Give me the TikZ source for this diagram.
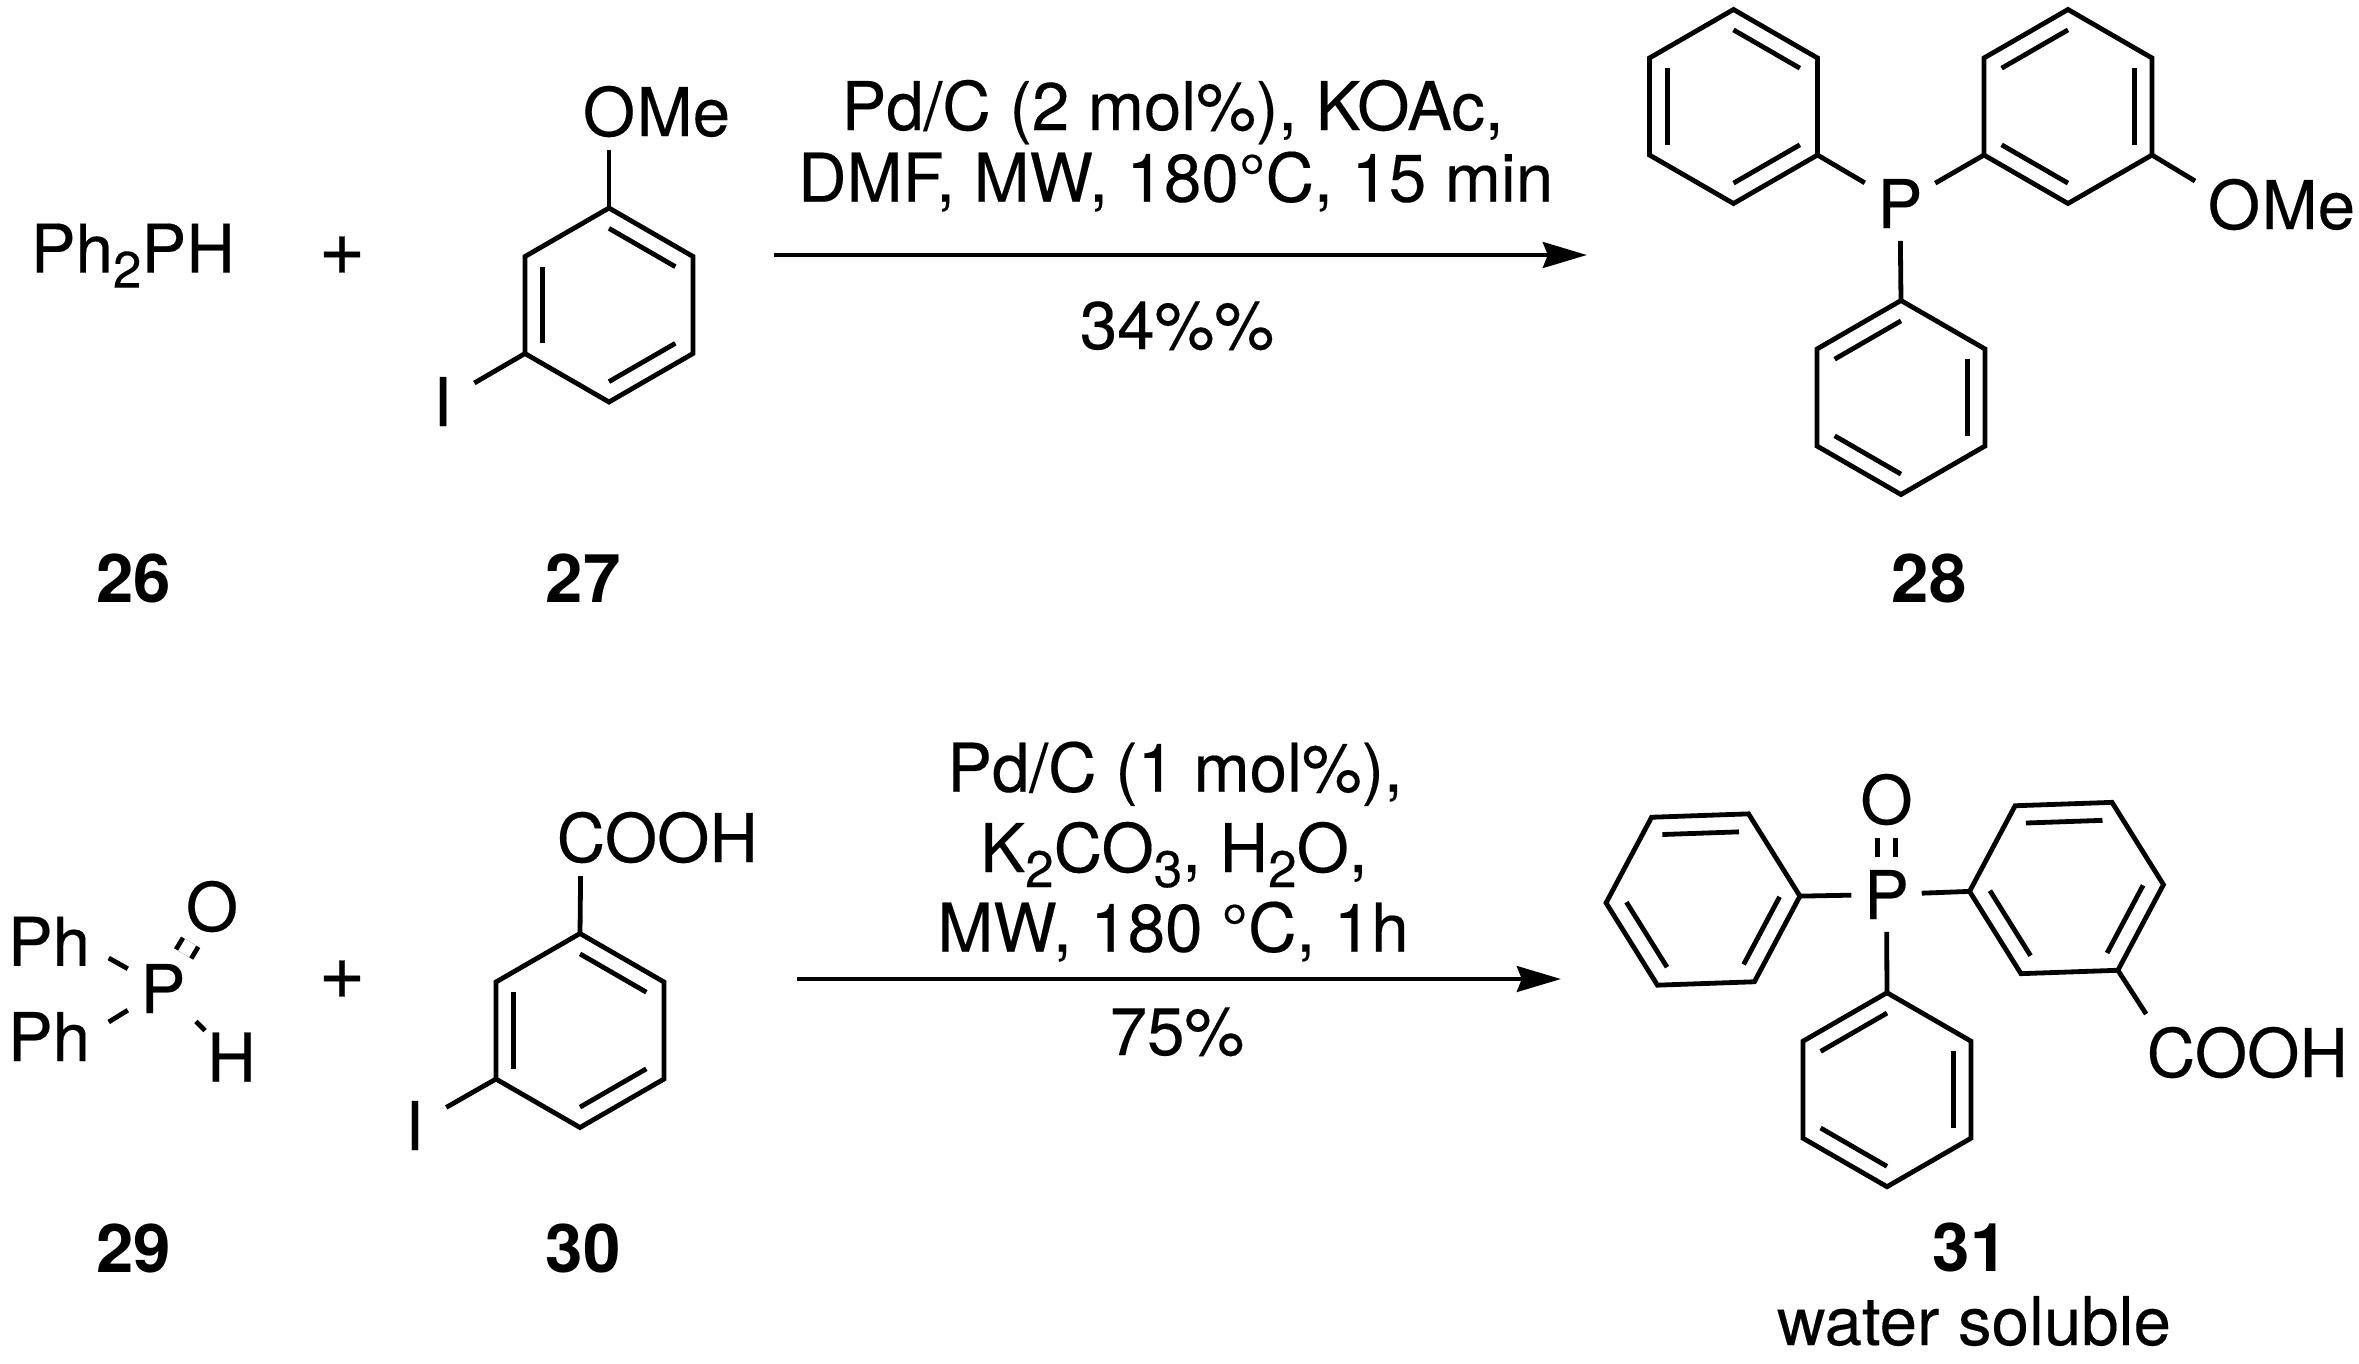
\documentclass[tikz,border=0pt]{standalone}
\usepackage{fontspec}
\setmainfont[FakeBold=0.25,BoldFeatures={FakeBold=0}]{TeX Gyre Heros}
\usepackage{tikz}
\usetikzlibrary{arrows.meta,calc}
\newcommand{\chemfont}{\fontsize{16.8}{18}\selectfont}
\newcommand{\chemsub}[1]{\raisebox{-3.75pt}{\fontsize{12.8}{12.8}\selectfont #1}}
\tikzstyle{atom} = [inner sep=3pt, anchor=base, font=\chemfont]
\tikzstyle{tightatom} = [inner sep=0pt, anchor=base, font=\chemfont]
\tikzstyle{textonly} = [inner sep=0pt, anchor=base, font=\chemfont]
\tikzstyle{plussign} = [inner sep=0pt, anchor=base, font=\fontsize{20}{20}\selectfont]
\tikzstyle{cpd} = [inner sep=0pt, anchor=base, font=\chemfont\bfseries]
\tikzstyle{bond} = [draw, line width=1.2pt]
\tikzstyle{dbond} = [draw, line width=1.2pt, double, double distance=3.2pt]
\tikzstyle{tedge} = [draw, line width=1.2pt, -{Stealth[length=11pt, width=6.4pt, inset=1.2pt]}]
% benzene ring: name, centre, angle of first corner
\newcommand{\phring}[3]{
  \coordinate (#1c) at #2;
  \foreach \k in {0,...,5} {
    \coordinate (#1v\k) at ($(#1c)+({#3+60*\k}:97)$);
  }
  \path[bond, line join=miter] (#1v0) -- (#1v1) -- (#1v2) -- (#1v3) -- (#1v4) -- (#1v5) -- cycle;
  \path[bond] ($(#1c)!0.79!(#1v0)$) -- ($(#1c)!0.79!(#1v1)$);
  \path[bond] ($(#1c)!0.79!(#1v2)$) -- ($(#1c)!0.79!(#1v3)$);
  \path[bond] ($(#1c)!0.79!(#1v4)$) -- ($(#1c)!0.79!(#1v5)$);
}
\begin{document}
\begin{tikzpicture}[x=0.25pt, y=-0.25pt]
\useasboundingbox (0,0) rectangle (2359,1363);

% top row ================================

% 26
\node[textonly, anchor=base west] (ph2ph) at (30,272.6) {Ph\chemsub{2}PH};
\node[plussign] (plus1) at (342,274.5) {+};
\node[cpd] (n26) at (134,602) {26};

% 27
\phring{a}{(609,305)}{-90}
\node[atom] (O27) at (609,136) {O};
\node[textonly, anchor=base west] (Me27) at ([xshift=-3pt]O27.base east) {Me};
\node[atom, inner xsep=5.4pt] (I27) at (442.6,426) {I};
\node[cpd] (n27) at (583,602) {27};
\path[bond] (av0) -- (O27);
\path[bond] (av4) -- (I27);

% conditions 1
\node[textonly] (reag1a) at (1172.5,130) {Pd/C (2 mol\%), KOAc,};
\node[textonly] (reag1b) at (1175.6,201.7) {DMF, MW, 180°C, 15 min};
\node[textonly] (yield1) at (1177,349) {34\%\%};
\coordinate (arr1a) at (774,255);
\coordinate (arr1b) at (1587,255);
\path[tedge] (arr1a) -- (arr1b);

% 28
\phring{b}{(1733.5,106.5)}{-90}
\phring{c}{(2068,106.5)}{-150}
\phring{d}{(1901,397.5)}{-150}
\node[atom] (P28) at (1900,228) {P};
\node[atom] (O28) at (2234,229) {O};
\node[textonly, anchor=base west] (Me28) at ([xshift=-3pt]O28.base east) {Me};
\node[cpd] (n28) at (1929,602) {28};
\path[bond] (bv2) -- (P28);
\path[bond] (cv5) -- (P28);
\path[bond] (dv1) -- (P28);
\path[bond] (cv3) -- (O28);

% bottom row =============================

% 29
\node[atom] (P29) at (163,1013) {P};
\node[textonly] (Ph29a) at (49,965.8) {Ph};
\node[textonly] (Ph29b) at (49,1061) {Ph};
\node[atom] (O29) at (212,931) {O};
\node[tightatom] (H29) at (231.5,1081.5) {H};
\coordinate (ph29aend) at (108.7,958);
\coordinate (ph29bend) at (108.7,1022);
\path[bond] (P29) -- (ph29aend);
\path[bond] (P29) -- (ph29bend);
\path[dbond, shorten <=-0.8pt, shorten >=-0.8pt] (P29) -- (O29);
\path[bond, shorten <=-0.8pt, shorten >=0.5pt] (P29) -- (H29);
\node[plussign] (plus2) at (342,998.5) {+};
\node[cpd] (n29) at (134,1272) {29};

% 30
\phring{e}{(580,1030.5)}{-90}
\node[atom] (C30) at (581,862) {C};
\node[textonly, anchor=base west] (OOH30) at ([xshift=-3.5pt]C30.base east) {OOH};
\node[atom, inner xsep=5.4pt] (I30) at (414.5,1150) {I};
\node[cpd] (n30) at (583,1272) {30};
\path[bond] (ev0) -- (C30);
\path[bond] (ev4) -- (I30);

% conditions 2
\node[textonly] (reag2a) at (1175,791.7) {Pd/C (1 mol\%),};
\node[textonly] (reag2b) at (1174,872) {K\chemsub{2}CO\chemsub{3}, H\chemsub{2}O,};
\node[textonly] (reag2c) at (1173,951.7) {MW, 180 °C, 1h};
\node[textonly] (yield2) at (1177,1055) {75\%};
\coordinate (arr2a) at (797,979);
\coordinate (arr2b) at (1561,979);
\path[tedge] (arr2a) -- (arr2b);

% 31
\phring{f}{(1703,899.5)}{-122}
\phring{g}{(2066.5,888)}{-122}
\phring{h}{(1887,1089.7)}{-150}
\node[atom] (P31) at (1886.5,919) {P};
\node[atom] (O31) at (1886.5,824) {O};
\node[atom] (C31) at (2171,1077) {C};
\node[textonly, anchor=base west] (OOH31) at ([xshift=-3.5pt]C31.base east) {OOH};
\node[cpd] (n31) at (1970,1271.6) {31};
\node[textonly] (water) at (1974,1345) {water soluble};
\path[bond] (fv2) -- (P31);
\path[bond] (gv5) -- (P31);
\path[bond] (hv1) -- (P31);
\path[dbond] (P31) -- (O31);
\path[bond] (gv3) -- (C31);

\end{tikzpicture}
\end{document}
